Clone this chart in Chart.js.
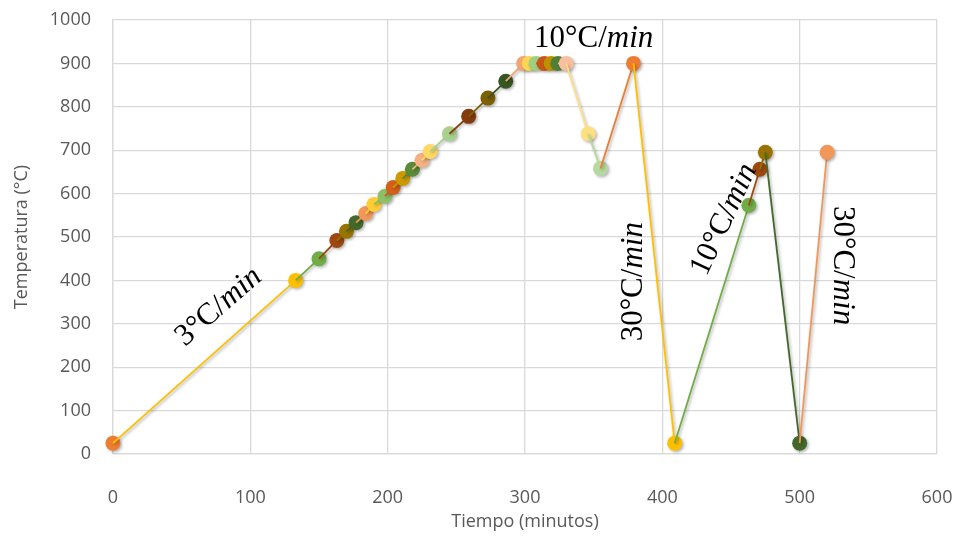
<!DOCTYPE html>
<html>
<head>
<meta charset="utf-8">
<script src="https://cdn.jsdelivr.net/npm/chart.js@4"></script>
<style>
  html, body { margin: 0; padding: 0; background: #fff; }
  #wrap { width: 957px; height: 537px; }
</style>
</head>
<body>
<div id="wrap"><canvas id="tempChart" width="957" height="537"></canvas></div>
<script>
// Tiempo (minutos) and Temperatura (°C) for each measured point
const tiempo = [0, 133, 150, 163, 170, 177, 184, 190, 198, 204,
                211, 218, 225, 231, 245, 259, 273, 286, 299, 303,
                308, 314, 319, 324, 330, 346, 355, 379, 409, 463,
                471, 475, 500, 520];
const temperatura = [25, 400, 450, 492, 513, 533, 554, 575, 594, 614,
                     635, 656, 677, 697, 738, 778, 820, 859, 900, 900,
                     900, 900, 900, 900, 900, 738, 658, 900, 25, 573,
                     656, 695, 25, 695];

const xTicks = [0, 100, 200, 300, 400, 500, 600];
const yTicks = [0, 100, 200, 300, 400, 500, 600, 700, 800, 900, 1000];

// rate labels: text, anchor (data units), rotation in degrees
const rateLabels = ["3°C/", "10°C/", "30°C/", "10°C/", "30°C/"];
const rateX = [77, 350, 379, 445, 531];
const rateY = [339, 956, 397, 540, 434];
const rateAngle = [-41, 0, -90, -65, 90];

// series colour cycle (Excel style)
const palette = [
    "#ED7D31", "#FFC000", "#70AD47", "#9E480E", "#997300", "#43682B",
    "#F1975A", "#FFCD33", "#8CC168", "#D2601A", "#CC9A00", "#5A8A39",
    "#F4B183", "#FFD966", "#A9D18E", "#843C0C", "#7F6000", "#375623",
    "#F4A474", "#FFD650", "#A0CF80", "#C8561A", "#C09000", "#4F7F35",
    "#F8C0A0", "#FFE080", "#B5D9A0"
];

// one small series per point, joined to the previous point
const datasets = tiempo.map((t, i) => {
    const col = palette[i % palette.length];
    const pts = i === 0 ? [{x: t, y: temperatura[i]}]
        : [{x: tiempo[i - 1], y: temperatura[i - 1]}, {x: t, y: temperatura[i]}];
    return {
        data: pts,
        showLine: true,
        borderColor: col,
        backgroundColor: col,
        borderWidth: 1.8,
        pointRadius: i === 0 ? [7.5] : [0, 7.5],
        pointHoverRadius: i === 0 ? [7.5] : [0, 7.5],
        pointBorderWidth: 0,
        clip: false,
        order: -i
    };
});

const markerShadow = {
    id: 'markerShadow',
    beforeDatasetsDraw(chart) {
        const ctx = chart.ctx;
        ctx.save();
        ctx.shadowColor = 'rgba(0,0,0,0.3)';
        ctx.shadowBlur = 3;
        ctx.shadowOffsetX = 1.5;
        ctx.shadowOffsetY = 1.5;
    },
    afterDatasetsDraw(chart) {
        chart.ctx.restore();
    }
};

const serif = '"Liberation Serif", "DejaVu Serif", serif';

const rateText = {
    id: 'rateText',
    afterDatasetsDraw(chart) {
        const ctx = chart.ctx;
        const xs = chart.scales.x, ys = chart.scales.y;
        rateLabels.forEach((lab, i) => {
            ctx.save();
            ctx.translate(xs.getPixelForValue(rateX[i]), ys.getPixelForValue(rateY[i]));
            ctx.rotate(rateAngle[i] * Math.PI / 180);
            ctx.fillStyle = '#000';
            ctx.textBaseline = 'middle';
            ctx.textAlign = 'left';
            ctx.font = '31px ' + serif;
            const w1 = ctx.measureText(lab).width;
            ctx.font = 'italic 31px ' + serif;
            const w2 = ctx.measureText('min').width;
            const start = -(w1 + w2) / 2;
            ctx.font = '31px ' + serif;
            ctx.fillText(lab, start, 0);
            ctx.font = 'italic 31px ' + serif;
            ctx.fillText('min', start + w1, 0);
            ctx.restore();
        });
    }
};

const axisFont = { family: '"Liberation Sans Narrow", "Open Sans", sans-serif', size: 18 };

new Chart(document.getElementById('tempChart'), {
    type: 'scatter',
    data: { datasets: datasets },
    options: {
        responsive: false,
        animation: false,
        layout: { padding: { top: 20, right: 20, left: 0, bottom: 0 } },
        plugins: { legend: { display: false }, tooltip: { enabled: false } },
        scales: {
            x: {
                min: 0, max: 600,
                afterBuildTicks: (s) => { s.ticks = xTicks.map(v => ({ value: v })); },
                afterFit: (s) => { s.height = 83; s.paddingLeft = 0; s.paddingRight = 0; },
                grid: { color: '#D9D9D9', lineWidth: 1.3, drawTicks: false },
                border: { color: '#D9D9D9', width: 1.3 },
                ticks: { color: '#595959', font: axisFont, padding: 33, maxRotation: 0,
                         callback: (v) => String(v) },
                title: { display: true, text: 'Tiempo (minutos)', color: '#595959',
                         font: { family: axisFont.family, size: 18 }, padding: { top: 0, bottom: 4 } }
            },
            y: {
                min: 0, max: 1000,
                afterBuildTicks: (s) => { s.ticks = yTicks.map(v => ({ value: v })); },
                afterFit: (s) => { s.width = 113; s.paddingTop = 0; s.paddingBottom = 0; },
                grid: { color: '#D9D9D9', lineWidth: 1.3, drawTicks: false },
                border: { color: '#D9D9D9', width: 1.3 },
                ticks: { color: '#595959', font: axisFont, padding: 22,
                         callback: (v) => String(v) },
                title: { display: true, text: 'Temperatura (°C)', color: '#595959',
                         font: { family: axisFont.family, size: 18 }, padding: { top: 11, bottom: 0 } }
            }
        }
    },
    plugins: [markerShadow, rateText]
});
</script>
</body>
</html>
